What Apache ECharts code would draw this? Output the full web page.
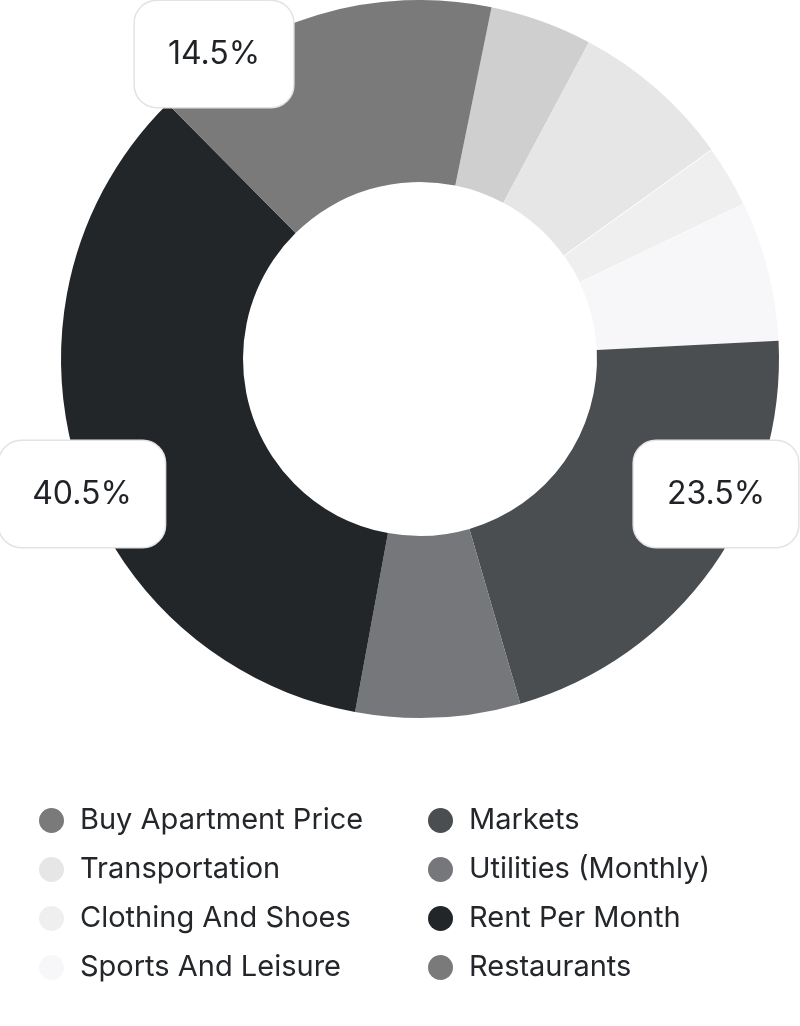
<!DOCTYPE html>
<html>
<head>
<meta charset="utf-8">
<script src="https://cdn.jsdelivr.net/npm/echarts@6/dist/echarts.min.js"></script>
<style>
  html, body { margin: 0; padding: 0; background: #ffffff; }
  #chart { width: 800px; height: 1026px; }
</style>
</head>
<body>
<div id="chart"></div>
<script>
// ---- Data ----
const categories = [
  'Buy Apartment Price', 'Transportation', 'Clothing And Shoes', 'Sports And Leisure',
  'Markets', 'Utilities (Monthly)', 'Rent Per Month', 'Restaurants'
];
// share of the ring, in percent (measured from slice angles)
const values = [4.6, 7.3, 2.8, 6.3, 21.3, 7.4, 34.7, 15.6];
// text shown in the callout boxes ('' = no callout)
const calloutTexts = ['', '', '', '', '23.5%', '', '40.5%', '14.5%'];
const sliceColors = ['#cfcfcf', '#e6e6e6', '#efeff0', '#f7f7f9', '#4b4e51', '#76777b', '#232629', '#7a7a7a'];
const legendIconColors = ['#7a7a7a', '#e6e6e6', '#efeff0', '#f7f7f9', '#4b4e51', '#76777b', '#232629', '#7a7a7a'];
const sliceBorderWidths = [0, 0, 1, 0, 0, 0, 0, 0];
const legendLeft = ['Buy Apartment Price', 'Transportation', 'Clothing And Shoes', 'Sports And Leisure'];
const legendRight = ['Markets', 'Utilities (Monthly)', 'Rent Per Month', 'Restaurants'];

// ---- Layout (positions of the callout boxes, px) ----
const calloutAnchor = {
  'Markets': [716, 494],
  'Rent Per Month': [82, 494],
  'Restaurants': [214, 54]
};

const FONT = 'Inter, "Noto Sans", sans-serif';

const seriesData = categories.map((name, i) => ({
  name: name,
  value: values[i],
  itemStyle: { color: sliceColors[i], borderColor: '#ffffff', borderWidth: sliceBorderWidths[i] },
  label: { show: calloutTexts[i] !== '' }
}));

function legendData(names) {
  return names.map(n => ({
    name: n,
    itemStyle: { color: legendIconColors[categories.indexOf(n)], borderWidth: 0 }
  }));
}

const legendCommon = {
  orient: 'vertical',
  icon: 'circle',
  itemWidth: 47,
  itemHeight: 25,
  itemGap: 20,
  top: 801,
  selectedMode: false,
  textStyle: { fontFamily: FONT, fontSize: 29, color: '#23262a', lineHeight: 29 }
};

const chart = echarts.init(document.getElementById('chart'), null, { renderer: 'canvas' });
chart.setOption({
  animation: false,
  backgroundColor: '#ffffff',
  legend: [
    Object.assign({}, legendCommon, { left: 34, data: legendData(legendLeft) }),
    Object.assign({}, legendCommon, { left: 423, data: legendData(legendRight) })
  ],
  series: [{
    type: 'pie',
    center: [420, 359],
    radius: [177, 359],
    startAngle: 78.5,
    clockwise: true,
    avoidLabelOverlap: false,
    emphasis: { disabled: true },
    label: {
      position: 'inside',
      formatter: p => calloutTexts[p.dataIndex],
      fontFamily: FONT,
      fontSize: 32,
      color: '#1f2226',
      lineHeight: 38,
      backgroundColor: '#ffffff',
      borderColor: '#e3e3e6',
      borderWidth: 1.5,
      borderRadius: 22,
      padding: [34, 33, 34, 33]
    },
    labelLine: { show: false },
    labelLayout: function (params) {
      const a = calloutAnchor[categories[params.dataIndex]];
      return a ? { x: a[0], y: a[1], align: 'center', verticalAlign: 'middle' } : {};
    },
    data: seriesData
  }]
});
</script>
</body>
</html>
